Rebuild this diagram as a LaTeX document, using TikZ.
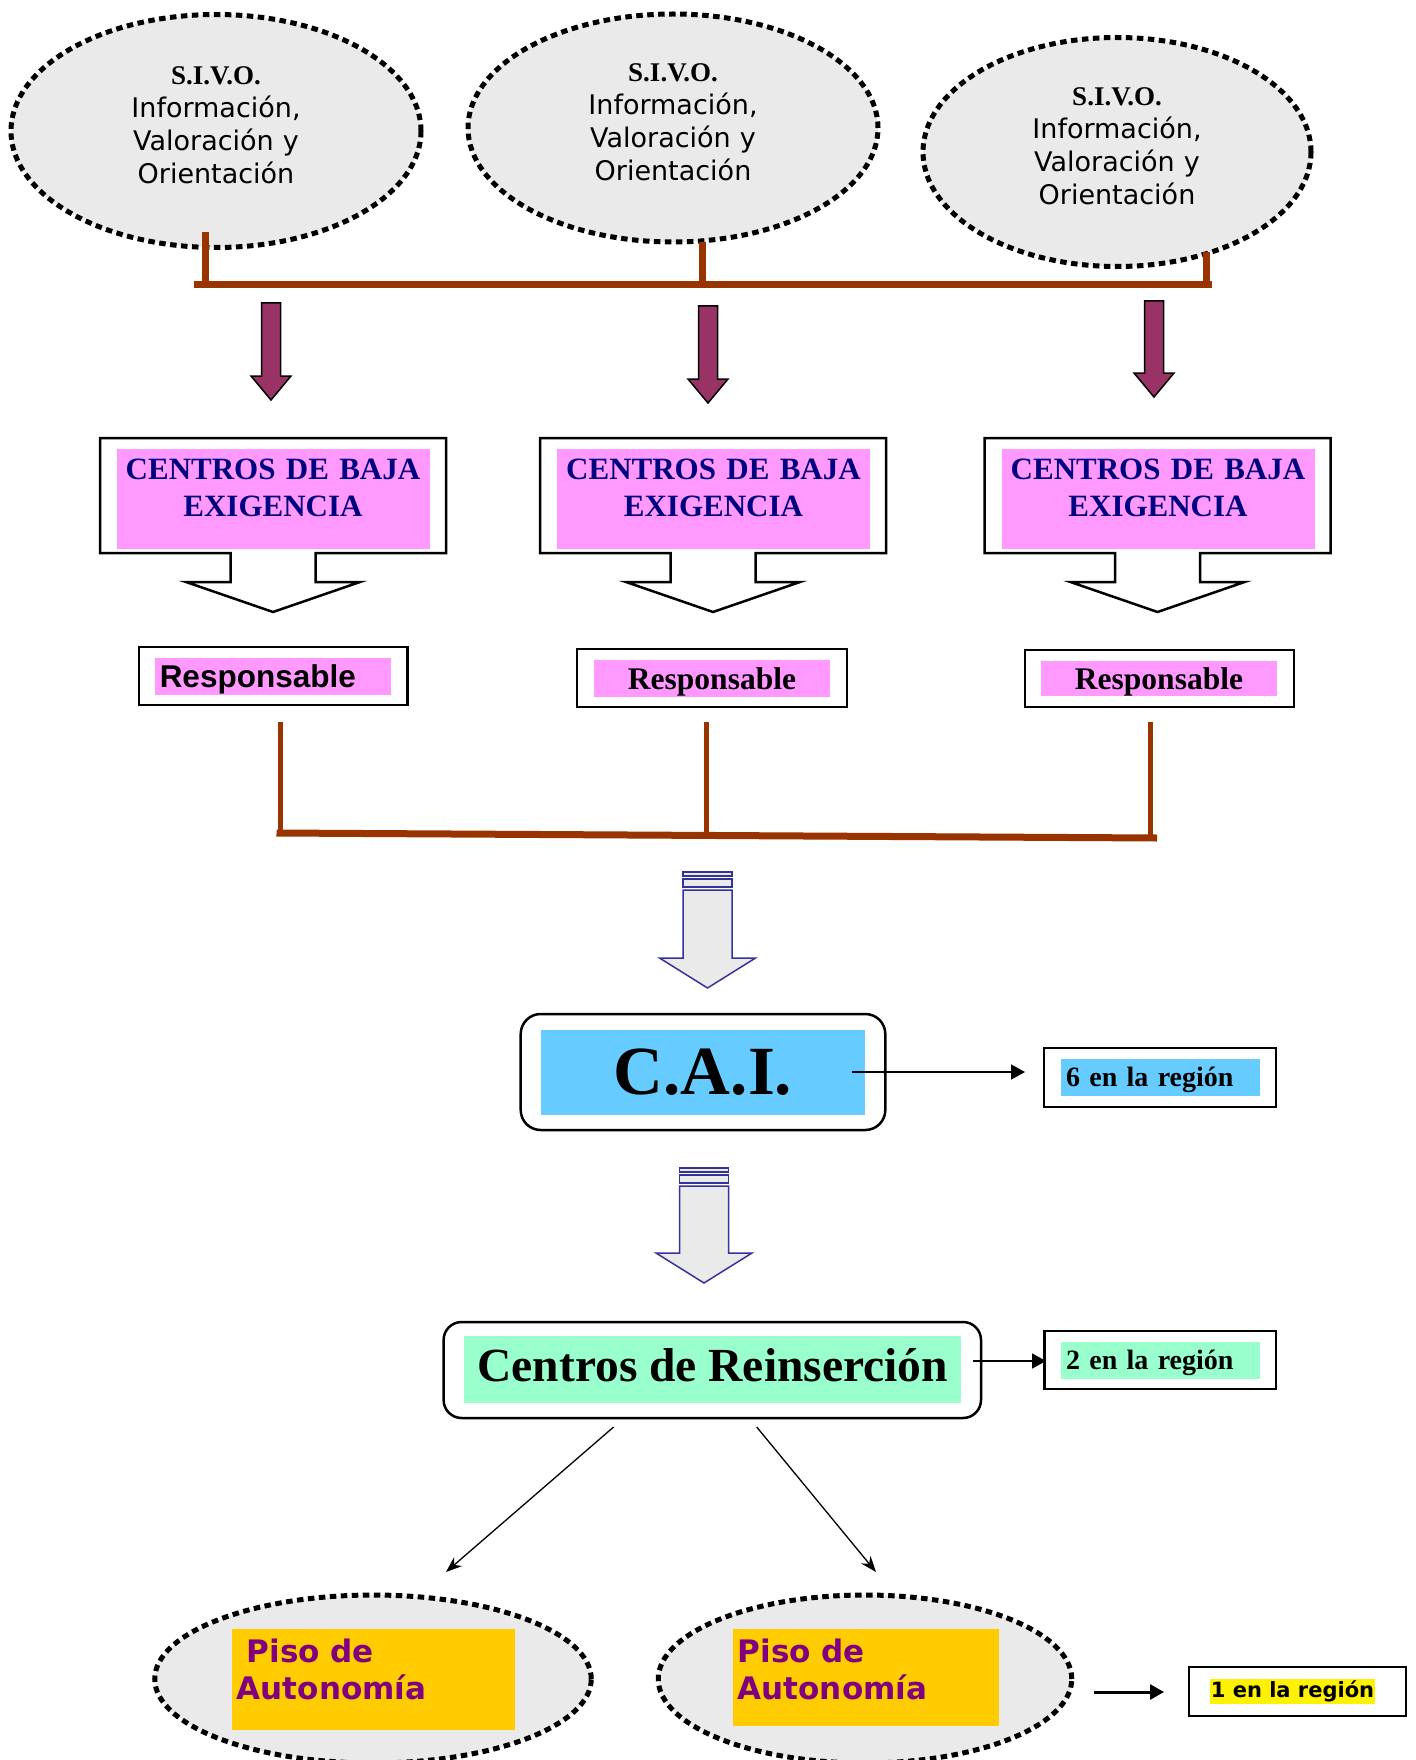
\documentclass[tikz,border=0pt]{standalone}
\usepackage{fontspec}
\setmainfont{Liberation Serif}
\newfontfamily\verdana{DejaVu Sans}
\newfontfamily\arial{Liberation Sans}
\usetikzlibrary{shapes.geometric,arrows.meta}
\definecolor{sivogray}{RGB}{234,234,234}
\definecolor{busbrown}{RGB}{153,51,0}
\definecolor{plum}{RGB}{153,51,102}
\definecolor{pinkfill}{RGB}{255,153,255}
\definecolor{navytext}{RGB}{0,0,128}
\definecolor{skyfill}{RGB}{102,204,255}
\definecolor{mintfill}{RGB}{153,255,204}
\definecolor{goldfill}{RGB}{255,204,0}
\definecolor{purpletext}{RGB}{128,0,128}
\definecolor{arrowblue}{RGB}{51,51,153}
\tikzset{%
  bubble/.style={ellipse, draw, fill=sivogray, line width=5pt,
    dash pattern=on 6.5pt off 4.5pt, inner sep=0pt},% dotted grey bubble
  sivo/.style={bubble, align=center, text width=210pt, text depth=111pt,
    font=\verdana\fontsize{27}{33}\selectfont},% S.I.V.O. bubble with text
  bus/.style={draw=busbrown, line width=7pt},% brown joining line
  plumarrow/.style={draw, fill=plum, line width=1.5pt},% filled down arrow
  hollow/.style={draw=arrowblue, fill=sivogray, line width=1.5pt},% grey block arrow
  callout/.style={draw, fill=white, line width=2.5pt},% box with arrow below
  boxframe/.style={draw, fill=white, line width=2.5pt, inner sep=0pt},% outer frame
  roundframe/.style={boxframe, rounded corners=20pt},% rounded outer frame
  baja/.style={anchor=north, fill=pinkfill, text=navytext, inner sep=0pt,
    text width=313pt, align=center, text height=30pt, text depth=70pt,
    font=\bfseries\fontsize{31}{37}\selectfont},% pink title block
  resp/.style={fill=pinkfill, inner xsep=5pt, inner ysep=0pt, align=center,
    text height=29pt, text depth=8pt, font=\bfseries\fontsize{31.5}{36}\selectfont},% pink label
  tally/.style={inner xsep=5pt, inner ysep=0pt, text width=189pt, align=left,
    text height=27pt, text depth=10pt, font=\bfseries\fontsize{28}{32}\selectfont},% count label
  piso/.style={anchor=north west, fill=goldfill, text=purpletext, inner xsep=5pt,
    inner ysep=0pt, align=left, text height=33pt,
    font=\verdana\bfseries\fontsize{31}{37}\selectfont},% orange block
  link/.style={line width=1.5pt, -{Triangle[length=14pt,width=15pt]}},% straight arrow
  branch/.style={line width=1.3pt, -{Stealth[length=16pt,width=12pt]}}% slanted arrow
}
\newcommand*{\sivohead}{\rmfamily\bfseries}
\newcommand*{\plumarrow}[3]{% x, top, tip
  \draw[plumarrow] ({#1-9.5},#2) -- ({#1+9.5},#2) -- ({#1+9.5},{#3-24})
    -- ({#1+20},{#3-24}) -- (#1,#3) -- ({#1-20},{#3-24}) -- ({#1-9.5},{#3-24}) -- cycle;}
\newcommand*{\hollowarrow}[3]{% x, top, tip
  \draw[hollow] ({#1-24.5},#2) rectangle ({#1+24.5},{#2+4});
  \draw[hollow] ({#1-24.5},{#2+7}) rectangle ({#1+24.5},{#2+15});
  \draw[hollow] ({#1-24.5},{#2+18}) -- ({#1+24.5},{#2+18}) -- ({#1+24.5},{#3-30})
    -- ({#1+48},{#3-30}) -- (#1,#3) -- ({#1-48},{#3-30}) -- ({#1-24.5},{#3-30}) -- cycle;}
\newcommand*{\bajacallout}[1]{% centre x
  \draw[callout] ({#1-173},438) -- ({#1+173},438) -- ({#1+173},553) -- ({#1+42.5},553)
    -- ({#1+42.5},582) -- ({#1+87},582) -- (#1,612) -- ({#1-87},582) -- ({#1-42.5},582)
    -- ({#1-42.5},553) -- ({#1-173},553) -- cycle;}
\begin{document}
\begin{tikzpicture}[x=1pt, y=-1pt]
\useasboundingbox (0,0) rectangle (1415,1760);

% S.I.V.O. bubbles
\node[sivo, minimum width=410pt, minimum height=233pt] (sivo1) at (216,131) {{\sivohead S.I.V.O.}\\Información,\\Valoración y\\Orientación};
\node[sivo, minimum width=410pt, minimum height=228pt] (sivo2) at (673,128) {{\sivohead S.I.V.O.}\\Información,\\Valoración y\\Orientación};
\node[sivo, minimum width=388pt, minimum height=229pt] (sivo3) at (1117,152) {{\sivohead S.I.V.O.}\\Información,\\Valoración y\\Orientación};

\coordinate (stub1) at (205,232);
\coordinate (stub2) at (702.5,242);
\coordinate (stub3) at (1206,252);
\coordinate (busL) at (194,285);
\coordinate (busR) at (1212,285);
\draw[bus] (busL) -- (busR);
\draw[bus] (stub1) -- (stub1 |- busL);
\draw[bus] (stub2) -- (stub2 |- busL);
\draw[bus] (stub3) -- (stub3 |- busL);

\plumarrow{271}{303}{400}
\plumarrow{708}{306}{403}
\plumarrow{1154}{301}{397}

% centros de baja exigencia
\bajacallout{273}
\bajacallout{713}
\bajacallout{1157.5}
\node[baja] (baja1) at (273,449) {CENTROS DE BAJA\\EXIGENCIA};
\node[baja] (baja2) at (713.5,449) {CENTROS DE BAJA\\EXIGENCIA};
\node[baja] (baja3) at (1158,449) {CENTROS DE BAJA\\EXIGENCIA};

\node[boxframe, minimum width=268.5pt, minimum height=58pt] (frame1) at (273,676) {};
\node[boxframe, minimum width=270pt, minimum height=58pt] (frame2) at (712,678) {};
\node[boxframe, minimum width=269pt, minimum height=57pt] (frame3) at (1159.5,678.5) {};
\node[resp, text width=226.5pt, align=left, font=\arial\bfseries\fontsize{31.5}{36}\selectfont] (resp1) at (273,676.5) {Responsable};
\node[resp, text width=226pt] (resp2) at (712,678.5) {Responsable};
\node[resp, text width=226pt, text height=28pt, text depth=7pt] (resp3) at (1159,678.5) {Responsable};

\coordinate (drop1) at (280,722);
\coordinate (drop2) at (706,722);
\coordinate (drop3) at (1150,722);
\coordinate (joinL) at (276.5,833);
\coordinate (joinR) at (1157,838);
\draw[bus, line width=5pt] (drop1) -- (drop1 |- joinL);
\draw[bus, line width=5pt] (drop2) -- ++(0,113);
\draw[bus, line width=5pt] (drop3) -- (drop3 |- joinR);
\draw[bus] (joinL) -- (joinR);

% C.A.I.
\hollowarrow{707.5}{872}{988}
\node[roundframe, minimum width=364.6pt, minimum height=116pt] (caiframe) at (703,1072) {};
\node[fill=skyfill, minimum width=324pt, minimum height=85pt, inner sep=0pt, font=\bfseries\fontsize{69}{69}\selectfont] (cai) at (703,1072.5) {C.A.I.};
\node[boxframe, minimum width=232pt, minimum height=59pt] (sixframe) at (1160,1077.5) {};
\node[tally, fill=skyfill] (six) at (1160.5,1077.5) {6 en la región};
\coordinate (caiout) at (852,1072);
\coordinate (sixin) at (1025,1072);
\draw[link] (caiout) -- (sixin);

% centros de reinsercion
\hollowarrow{704}{1168}{1283}
\node[roundframe, rounded corners=18pt, minimum width=537.4pt, minimum height=96pt] (reinsframe) at (712.3,1370) {};
\node[fill=mintfill, minimum width=497.5pt, inner sep=0pt, text height=45pt, text depth=22pt, font=\bfseries\fontsize{47.5}{50}\selectfont] (reins) at (712.7,1369.5) {Centros de Reinserción};
\node[boxframe, minimum width=231.4pt, minimum height=58pt] (twoframe) at (1160.3,1360) {};
\node[tally, fill=mintfill] (two) at (1160.5,1360.5) {2 en la región};
\coordinate (reinsout) at (973,1361);
\coordinate (twoin) at (1046,1361);
\draw[link] (reinsout) -- (twoin);

\coordinate (splitL) at (613.6,1427);
\coordinate (splitR) at (756.7,1427);
\coordinate (pisoinL) at (446,1572);
\coordinate (pisoinR) at (876,1572);
\draw[branch] (splitL) -- (pisoinL);
\draw[branch] (splitR) -- (pisoinR);

% pisos de autonomia
\node[bubble, minimum width=436.5pt, minimum height=168pt] (bubble1) at (373,1679) {};
\node[bubble, minimum width=413.5pt, minimum height=168pt] (bubble2) at (865,1679) {};
\node[piso, text width=273pt, text depth=68pt] (piso1) at (231.7,1629) {\hspace*{10pt}Piso de\\Autonomía};
\node[piso, text width=256pt, text depth=64pt] (piso2) at (732.6,1629) {Piso de\\Autonomía};

\node[boxframe, minimum width=217pt, minimum height=49pt] (oneframe) at (1297.5,1691.5) {};
\node[fill=yellow, inner sep=1pt, text height=18pt, text depth=5pt, font=\verdana\bfseries\fontsize{21}{24}\selectfont] (one) at (1292.5,1691) {1 en la región};
\coordinate (oneout) at (1094,1692);
\coordinate (onein) at (1164,1692);
\draw[link, line width=3pt] (oneout) -- (onein);

\end{tikzpicture}
\end{document}
